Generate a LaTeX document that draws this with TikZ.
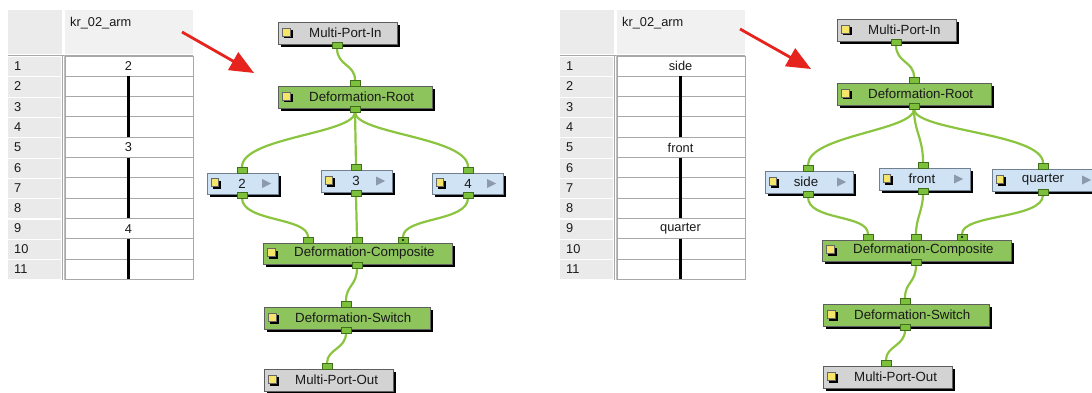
\documentclass[tikz,border=0pt]{standalone}
\usepackage{fontspec}
\setmainfont{Liberation Sans}
\usetikzlibrary{arrows.meta}
\pgfdeclarelayer{back}
\pgfdeclarelayer{wires}
\pgfsetlayers{back,wires,main}
\definecolor{tbgreen}{HTML}{8EC45C}
\definecolor{tbblue}{HTML}{CFE3F5}
\definecolor{tbgrey}{HTML}{D3D3D3}
\definecolor{wirecol}{HTML}{8BC53F}
\definecolor{portfill}{HTML}{7DC03C}
\definecolor{portdraw}{HTML}{3F6E1C}
\definecolor{iconyellow}{HTML}{F6E56B}
\definecolor{tricol}{HTML}{8C9AAB}
\definecolor{redarrow}{HTML}{E6231C}
\definecolor{boxborder}{HTML}{5E5E5E}
\definecolor{blueborder}{HTML}{71808F}
\definecolor{hdrgrey}{HTML}{EBEBEB}
\definecolor{hdrcol}{HTML}{F1F1F1}
\definecolor{rowgrey}{HTML}{EAEAEA}
\definecolor{cellline}{HTML}{A8A8A8}
\tikzset{
  tbox/.style={draw=boxborder, line width=0.8pt, inner sep=0pt, outer sep=0pt, anchor=north west},
  port/.style={draw=portdraw, fill=portfill, line width=0.6pt, minimum width=10pt, minimum height=6pt, inner sep=0pt, outer sep=0pt},
  wire/.style={draw=wirecol, line width=2.2pt},
  lbl/.style={font=\fontsize{13.3}{15}\selectfont, inner sep=0pt, text=black!90},
  tbl/.style={font=\fontsize{12.8}{14}\selectfont, inner sep=0pt, text=black!90},
  hold/.style={line width=2.4pt, black},
}
% #1 name, #2 fill, #3 left, #4 top, #5 right, #6 bottom, #7 text
\newcommand\tbbox[7]{%
  \fill[black] (#3+3,#4+3) rectangle (#5+3,#6+3);
  \node[tbox, fill=#2, minimum width={#5-#3}, minimum height={#6-#4}] (#1) at (#3,#4) {};
  \fill[black] (#3+6,{(#4+#6)/2-3}) rectangle (#3+14.5,{(#4+#6)/2+5.5});
  \filldraw[fill=iconyellow, draw=black!60, line width=0.4pt] (#3+4,{(#4+#6)/2-5}) rectangle (#3+12,{(#4+#6)/2+3});
  \node[lbl, anchor=west] (#1-t) at (#3+31,{(#4+#6)/2}) {#7};
}
% #1 name, #2 left, #3 top, #4 right, #5 bottom, #6 text, #7 text x
\newcommand\tbdrw[7]{%
  \fill[black] (#2+3,#3+3) rectangle (#4+3,#5+3);
  \node[tbox, draw=blueborder, fill=tbblue, minimum width={#4-#2}, minimum height={#5-#3}] (#1) at (#2,#3) {};
  \fill[black] (#2+6,{(#3+#5)/2-3}) rectangle (#2+13.5,{(#3+#5)/2+5.5});
  \filldraw[fill=iconyellow, draw=black!60, line width=0.4pt] (#2+4,{(#3+#5)/2-5}) rectangle (#2+11,{(#3+#5)/2+3});
  \node[lbl] (#1-t) at (#7,{(#3+#5)/2}) {#6};
  \fill[tricol] (#4-16,{(#3+#5)/2-4.5}) -- (#4-16,{(#3+#5)/2+4.5}) -- (#4-7,{(#3+#5)/2}) -- cycle;
}
% #1 prefix, #2 dx, #3 v1, #4 v5, #5 v9
\newcommand\xsheet[5]{%
  \begin{scope}[xshift=#2pt]
    \fill[hdrgrey] (8,10) rectangle (62,54);
    \fill[hdrcol] (65,10) rectangle (193,54);
    \fill[white] (62,10) rectangle (65,54);
    \node[tbl, anchor=west] (#1-h) at (70,23) {kr\_02\_arm};
    \draw[cellline, line width=0.8pt] (8,55.5) -- (193,55.5);
    \foreach \i in {1,...,11} {
      \pgfmathsetmacro\ytop{56+20.3*(\i-1)}
      \pgfmathsetmacro\ybot{56+20.3*\i}
      \fill[rowgrey] (8,\ytop+1.2) rectangle (61,\ybot);
      \draw[cellline, line width=0.8pt] (65,\ytop) rectangle (193,\ybot);
      \node[tbl, anchor=west] (#1-r\i) at (14,{(\ytop+\ybot)/2}) {\i};
    }
    \draw[cellline, line width=1pt] (62.5,55) -- (62.5,280);
    \draw[black!25, line width=0.8pt] (64.2,55) -- (64.2,280);
    \node[tbl] (#1-v1) at (128.5,66.3) {#3};
    \node[tbl] (#1-v5) at (128.5,147.5) {#4};
    \node[tbl] (#1-v9) at (128.5,228.7) {#5};
    \draw[hold] (128.5,76.3) -- (128.5,137.2);
    \draw[hold] (128.5,157.5) -- (128.5,218.4);
    \draw[hold] (128.5,238.7) -- (128.5,279.3);
  \end{scope}
}
\begin{document}
\begin{tikzpicture}[x=1pt,y=-1pt]
\useasboundingbox (0,0) rectangle (1092,393);
\begin{pgfonlayer}{back}
  \fill[white] (0,0) rectangle (1092,393);
\end{pgfonlayer}
\clip (0,0) rectangle (1092,393);

% exposure sheets
\xsheet{lt}{0}{2}{3}{4}
\xsheet{rt}{552}{side}{front}{quarter}

% red arrows
\coordinate (la-s) at (182,32);
\coordinate (la-e) at (254,73);
\coordinate (ra-s) at (740,29);
\coordinate (ra-e) at (811,69);
\draw[redarrow, line width=2.8pt, -{Triangle[length=24pt,width=20pt]}] (la-s) -- (la-e);
\draw[redarrow, line width=2.8pt, -{Triangle[length=24pt,width=20pt]}] (ra-s) -- (ra-e);

% ---------- left network ----------
\tbbox{lmpi}{tbgrey}{278}{22}{397}{44}{Multi-Port-In}
\tbbox{lroot}{tbgreen}{278}{86}{432}{108}{Deformation-Root}
\tbdrw{ln2}{207}{173}{278}{194}{2}{242}
\tbdrw{ln3}{321}{170}{392}{192}{3}{356}
\tbdrw{ln4}{432}{173}{503}{194}{4}{468}
\tbbox{lcomp}{tbgreen}{263}{243}{452}{264}{Deformation-Composite}
\tbbox{lsw}{tbgreen}{264}{307}{430}{329}{Deformation-Switch}
\tbbox{lmpo}{tbgrey}{264}{369}{393}{391}{Multi-Port-Out}

\node[port] (lmpi-o) at (337,45) {};
\node[port] (lroot-i) at (355,83) {};
\node[port] (lroot-o) at (355,109) {};
\node[port] (ln2-i) at (242,170) {};
\node[port] (ln2-o) at (242,195) {};
\node[port] (ln3-i) at (356,167) {};
\node[port] (ln3-o) at (356,193) {};
\node[port] (ln4-i) at (468,170) {};
\node[port] (ln4-o) at (468,195) {};
\node[port] (lcomp-i1) at (308,240) {};
\node[port] (lcomp-i2) at (357,240) {};
\node[port] (lcomp-i3) at (403,240) {};
\fill[black] (lcomp-i3.center) circle (1.1);
\node[port] (lcomp-o) at (357,265) {};
\node[port] (lsw-i) at (346,304) {};
\node[port] (lsw-o) at (346,330) {};
\node[port] (lmpo-i) at (327,366) {};

\begin{pgfonlayer}{wires}
\draw[wire] (lmpi-o.south) .. controls +(0,18) and +(0,-16) .. (lroot-i.north);
\draw[wire] (lroot-o.south) .. controls +(0,22) and +(0,-30) .. (ln2-i.north);
\draw[wire] (lroot-o.south) -- (ln3-i.north);
\draw[wire] (lroot-o.south) .. controls +(0,22) and +(0,-30) .. (ln4-i.north);
\draw[wire] (ln2-o.south) .. controls +(0,24) and +(0,-20) .. (lcomp-i1.north);
\draw[wire] (ln3-o.south) -- (lcomp-i2.north);
\draw[wire] (ln4-o.south) .. controls +(0,24) and +(0,-20) .. (lcomp-i3.north);
\draw[wire] (lcomp-o.south) .. controls +(0,18) and +(0,-16) .. (lsw-i.north);
\draw[wire] (lsw-o.south) .. controls +(0,16) and +(0,-14) .. (lmpo-i.north);
\end{pgfonlayer}

% ---------- right network ----------
\tbbox{rmpi}{tbgrey}{837}{19}{956}{41}{Multi-Port-In}
\tbbox{rroot}{tbgreen}{837}{83}{991}{105}{Deformation-Root}
\tbdrw{rside}{765}{171}{853}{193}{side}{806}
\tbdrw{rfront}{879}{168}{970}{190}{front}{922}
\tbdrw{rquarter}{992}{169}{1098}{191}{quarter}{1043}
\tbbox{rcomp}{tbgreen}{822}{240}{1011}{261}{Deformation-Composite}
\tbbox{rsw}{tbgreen}{823}{304}{989}{326}{Deformation-Switch}
\tbbox{rmpo}{tbgrey}{823}{366}{952}{388}{Multi-Port-Out}

\node[port] (rmpi-o) at (896,42) {};
\node[port] (rroot-i) at (914,80) {};
\node[port] (rroot-o) at (914,106) {};
\node[port] (rside-i) at (808,168) {};
\node[port] (rside-o) at (808,194) {};
\node[port] (rfront-i) at (923,165) {};
\node[port] (rfront-o) at (923,191) {};
\node[port] (rquarter-i) at (1043,166) {};
\node[port] (rquarter-o) at (1043,192) {};
\node[port] (rcomp-i1) at (868,237) {};
\node[port] (rcomp-i2) at (916,237) {};
\node[port] (rcomp-i3) at (962,237) {};
\fill[black] (rcomp-i3.center) circle (1.1);
\node[port] (rcomp-o) at (916,262) {};
\node[port] (rsw-i) at (905,301) {};
\node[port] (rsw-o) at (905,327) {};
\node[port] (rmpo-i) at (886,363) {};

\begin{pgfonlayer}{wires}
\draw[wire] (rmpi-o.south) .. controls +(0,18) and +(0,-16) .. (rroot-i.north);
\draw[wire] (rroot-o.south) .. controls +(0,22) and +(0,-30) .. (rside-i.north);
\draw[wire] (rroot-o.south) .. controls +(0,22) and +(0,-24) .. (rfront-i.north);
\draw[wire] (rroot-o.south) .. controls +(0,22) and +(0,-30) .. (rquarter-i.north);
\draw[wire] (rside-o.south) .. controls +(0,24) and +(0,-20) .. (rcomp-i1.north);
\draw[wire] (rfront-o.south) .. controls +(0,16) and +(0,-16) .. (rcomp-i2.north);
\draw[wire] (rquarter-o.south) .. controls +(0,24) and +(0,-20) .. (rcomp-i3.north);
\draw[wire] (rcomp-o.south) .. controls +(0,18) and +(0,-16) .. (rsw-i.north);
\draw[wire] (rsw-o.south) .. controls +(0,16) and +(0,-14) .. (rmpo-i.north);
\end{pgfonlayer}
\end{tikzpicture}
\end{document}
